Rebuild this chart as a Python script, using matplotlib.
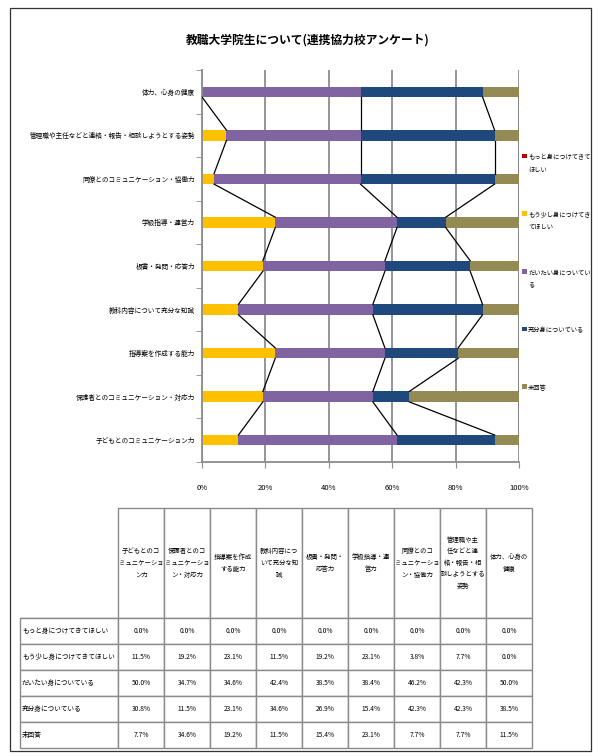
import matplotlib
matplotlib.use("Agg")
import matplotlib.pyplot as plt
from matplotlib.patches import Rectangle
from matplotlib.table import Table
import numpy as np

plt.rcParams['font.family'] = ['Noto Sans CJK JP', 'DejaVu Sans']

# categories in table order (bottom of chart -> top)
categories = ['子どもとのコミュニケーション力', '保護者とのコミュニケーション・対応力',
              '指導案を作成する能力', '教科内容について充分な知識', '板書・発問・応答力',
              '学級指導・運営力', '同僚とのコミュニケーション・協働力',
              '管理職や主任などと連絡・報告・相談しようとする姿勢', '体力、心身の健康']
col_headers = ['子どもとのコ\nミュニケーショ\nン力', '保護者とのコ\nミュニケーショ\nン・対応力',
               '指導案を作成\nする能力', '教科内容につ\nいて充分な知\n識', '板書・発問・\n応答力',
               '学級指導・運\n営力', '同僚とのコ\nミュニケーショ\nン・協働力',
               '管理職や主\n任などと連\n絡・報告・相\n談しようとする\n姿勢', '体力、心身の\n健康']

series_names = ['もっと身につけてきてほしい', 'もう少し身につけてきてほしい',
                'だいたい身についている', '充分身についている', '未回答']
legend_labels = ['もっと身につけてきて\nほしい', 'もう少し身につけてき\nてほしい',
                 'だいたい身についてい\nる', '充分身についている\n ', '未回答\n ']
colors = ['#C00000', '#FFC000', '#8064A2', '#1F497D', '#948A54']

motto = [0.0, 0.0, 0.0, 0.0, 0.0, 0.0, 0.0, 0.0, 0.0]
mousukoshi = [11.5, 19.2, 23.1, 11.5, 19.2, 23.1, 3.8, 7.7, 0.0]
daitai = [50.0, 34.7, 34.6, 42.4, 38.5, 38.4, 46.2, 42.3, 50.0]
juubun = [30.8, 11.5, 23.1, 34.6, 26.9, 15.4, 42.3, 42.3, 38.5]
mikaitou = [7.7, 34.6, 19.2, 11.5, 15.4, 23.1, 7.7, 7.7, 11.5]

values = np.array([motto, mousukoshi, daitai, juubun, mikaitou])
pct = values / values.sum(axis=0) * 100

W, H = 604, 756
fig = plt.figure(figsize=(W / 100, H / 100), dpi=100)

# outer frame
fig.patches.append(Rectangle((10 / W, 1 - 751 / H), 581 / W, 743 / H, transform=fig.transFigure,
                             fill=False, edgecolor='#333333', lw=0.9))

fig.text(308 / W, 1 - 40 / H, '教職大学院生について(連携協力校アンケート)',
         ha='center', va='center', fontsize=8.5, fontweight='bold')

# stacked bar chart
ax = fig.add_axes([202 / W, 1 - 462 / H, 317 / W, 392 / H])
y = np.arange(len(categories))
bh = 0.24
left = np.zeros(len(categories))
handles = []
for k in range(len(series_names)):
    b = ax.barh(y, pct[k], left=left, height=bh, color=colors[k], label=series_names[k], zorder=2)
    handles.append(b)
    left = left + pct[k]

# series lines between adjacent bars
cum = np.cumsum(pct, axis=0)
for k in range(1, len(series_names)):
    for i in range(len(categories) - 1):
        ax.plot([cum[k][i + 1], cum[k][i]], [i + 1 - bh / 2, i + bh / 2],
                color='black', lw=0.9, zorder=3)

ax.set_xlim(0, 100)
ax.set_ylim(-0.5, len(categories) - 0.5)
ax.set_xticks(np.arange(0, 101, 20))
ax.set_xticklabels([f'{v}%' for v in range(0, 101, 20)], fontsize=5.5)
ax.set_yticks(y)
ax.set_yticklabels(categories, fontsize=4.8)
ax.set_yticks(np.arange(-0.5, len(categories)), minor=True)
ax.tick_params(axis='y', which='major', length=0, pad=5)
ax.tick_params(axis='y', which='minor', length=4, color='#8c8c8c', direction='out')
ax.tick_params(axis='x', length=4, color='#8c8c8c', pad=12)
ax.xaxis.grid(True, color='#8c8c8c', lw=1.3, zorder=0)
ax.set_axisbelow(True)
for s in ['top', 'right']:
    ax.spines[s].set_visible(False)
for s in ['left', 'bottom']:
    ax.spines[s].set_color('#8c8c8c')
    ax.spines[s].set_linewidth(1.3)

leg = fig.legend(handles, legend_labels, loc='upper left', bbox_to_anchor=(519 / W, 1 - 151 / H),
                 frameon=False, fontsize=4.5, handlelength=0.8, handleheight=0.8,
                 handletextpad=0.25, labelspacing=6.0, borderaxespad=0)
for t in leg.get_texts():
    t.set_linespacing(1.7)
# keep each marker next to the first line of its label
for row in leg._legend_handle_box.get_children():
    for hp in row.get_children():
        hp.align = 'top'

# data table
tax = fig.add_axes([20 / W, 1 - 748 / H, 512 / W, 240 / H])
tax.axis('off')
tbl = Table(tax, bbox=[0, 0, 1, 1])
first_w, col_w = 98, 46
head_h, row_h = 110, 26
edge = '#8a8a8a'
corner = tbl.add_cell(0, 0, first_w, head_h, text='', loc='center', edgecolor=edge)
corner.visible_edges = 'B'
head_cells = []
for j, h in enumerate(col_headers):
    head_cells.append(tbl.add_cell(0, j + 1, col_w, head_h, text=h, loc='center', edgecolor=edge))
for r, name in enumerate(series_names):
    c = tbl.add_cell(r + 1, 0, first_w, row_h, text=name, loc='left', edgecolor=edge)
    c.PAD = 0.02
    for j in range(len(categories)):
        tbl.add_cell(r + 1, j + 1, col_w, row_h, text=f'{values[r][j]:.1f}%', loc='center',
                     edgecolor=edge)
tbl.auto_set_font_size(False)
tbl.set_fontsize(4.8)
for c in head_cells:
    c.get_text().set_fontsize(4.6)
    c.get_text().set_linespacing(1.6)
tax.add_table(tbl)

fig.savefig('out.png', dpi=100)
